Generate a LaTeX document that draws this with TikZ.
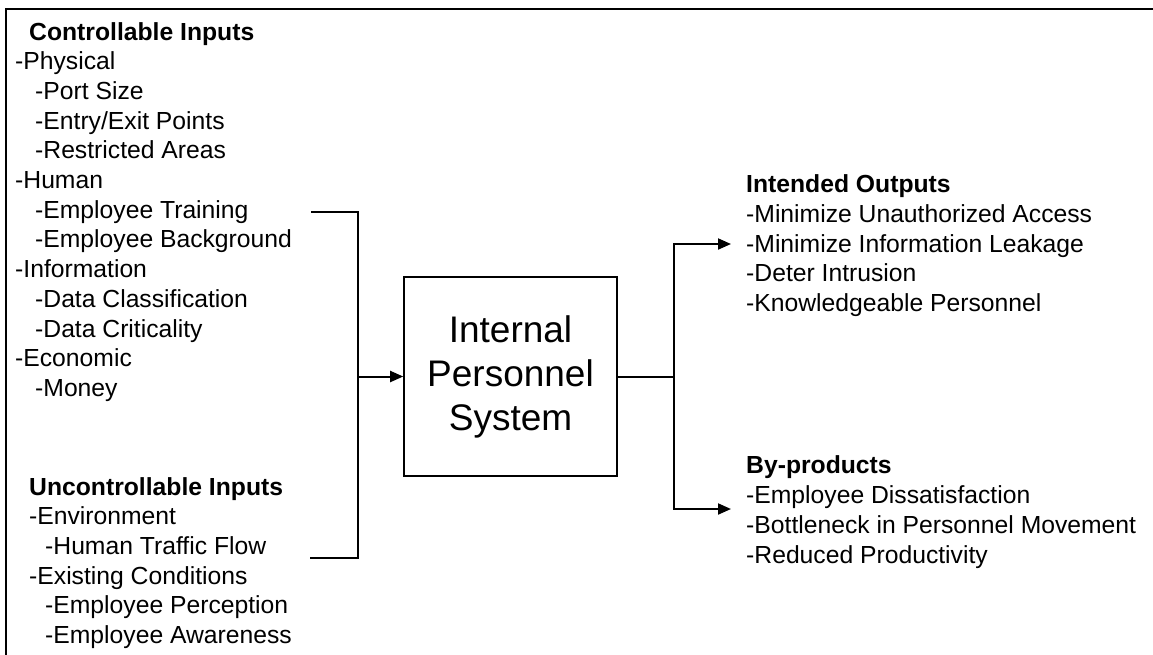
\documentclass[tikz,border=0pt]{standalone}
\usepackage{fontspec}
\setmainfont{Liberation Sans}
\usetikzlibrary{arrows.meta}
\begin{document}
\begin{tikzpicture}[x=1pt,y=-1pt,
  txt/.style={anchor=base west, inner sep=0pt, font=\fontsize{24.7}{29.7}\selectfont},
  hdr/.style={anchor=base west, inner sep=0pt, font=\fontsize{24.7}{29.7}\selectfont\bfseries},
  wire/.style={line width=2pt},
  arr/.style={line width=2pt, -{Triangle[length=13pt,width=11pt]}},
  sysbox/.style={draw, line width=1.6pt, minimum width=213pt, minimum height=199pt, inner sep=0pt,
    align=center, font=\fontsize{37}{44}\selectfont}]
\useasboundingbox (0,0) rectangle (1153,654);
% frame
\draw[line width=2.6pt] (6,660) -- (6,9) -- (1160,9);
% controllable inputs
\node[hdr] (ch) at (29,40) {Controllable Inputs};
\node[txt] (c1) at (15,69.7) {-Physical};
\node[txt] (c2) at (35,99.4) {-Port Size};
\node[txt] (c3) at (35,129.1) {-Entry/Exit Points};
\node[txt] (c4) at (35,158.8) {-Restricted Areas};
\node[txt] (c5) at (15,188.5) {-Human};
\node[txt] (c6) at (35,218.2) {-Employee Training};
\node[txt] (c7) at (35,247.9) {-Employee Background};
\node[txt] (c8) at (15,277.6) {-Information};
\node[txt] (c9) at (35,307.3) {-Data Classification};
\node[txt] (c10) at (35,337) {-Data Criticality};
\node[txt] (c11) at (15,366.7) {-Economic};
\node[txt] (c12) at (35,396.4) {-Money};
% uncontrollable inputs
\node[hdr] (uh) at (29,495) {Uncontrollable Inputs};
\node[txt] (u1) at (29,524.7) {-Environment};
\node[txt] (u2) at (45,554.4) {-Human Traffic Flow};
\node[txt] (u3) at (29,584.1) {-Existing Conditions};
\node[txt] (u4) at (45,613.8) {-Employee Perception};
\node[txt] (u5) at (45,643.5) {-Employee Awareness};
% system
\node[sysbox] (sys) at (510.5,376.5) {Internal\\Personnel\\System};
% intended outputs
\node[hdr] (ih) at (746,192) {Intended Outputs};
\node[txt] (i1) at (746,222) {-Minimize Unauthorized Access};
\node[txt] (i2) at (746,252) {-Minimize Information Leakage};
\node[txt] (i3) at (746,281.5) {-Deter Intrusion};
\node[txt] (i4) at (746,311) {-Knowledgeable Personnel};
% by-products
\node[hdr] (bh) at (746,473) {By-products};
\node[txt] (b1) at (746,503) {-Employee Dissatisfaction};
\node[txt] (b2) at (746,533) {-Bottleneck in Personnel Movement};
\node[txt] (b3) at (746,563) {-Reduced Productivity};
% connectors
\coordinate (bt) at (311,212);
\coordinate (bb) at (310,558);
\coordinate (lj) at (358,376.5);
\coordinate (rj) at (674,376.5);
\coordinate (ia) at (731,244);
\coordinate (ba) at (731,509);
\draw[wire] (bt) -- (bt -| lj) -- (bb -| lj) -- (bb);
\draw[arr] (lj) -- (sys.west);
\draw[wire] (sys.east) -- (rj);
\draw[arr] (rj) |- (ia);
\draw[arr] (rj) |- (ba);
\end{tikzpicture}
\end{document}
